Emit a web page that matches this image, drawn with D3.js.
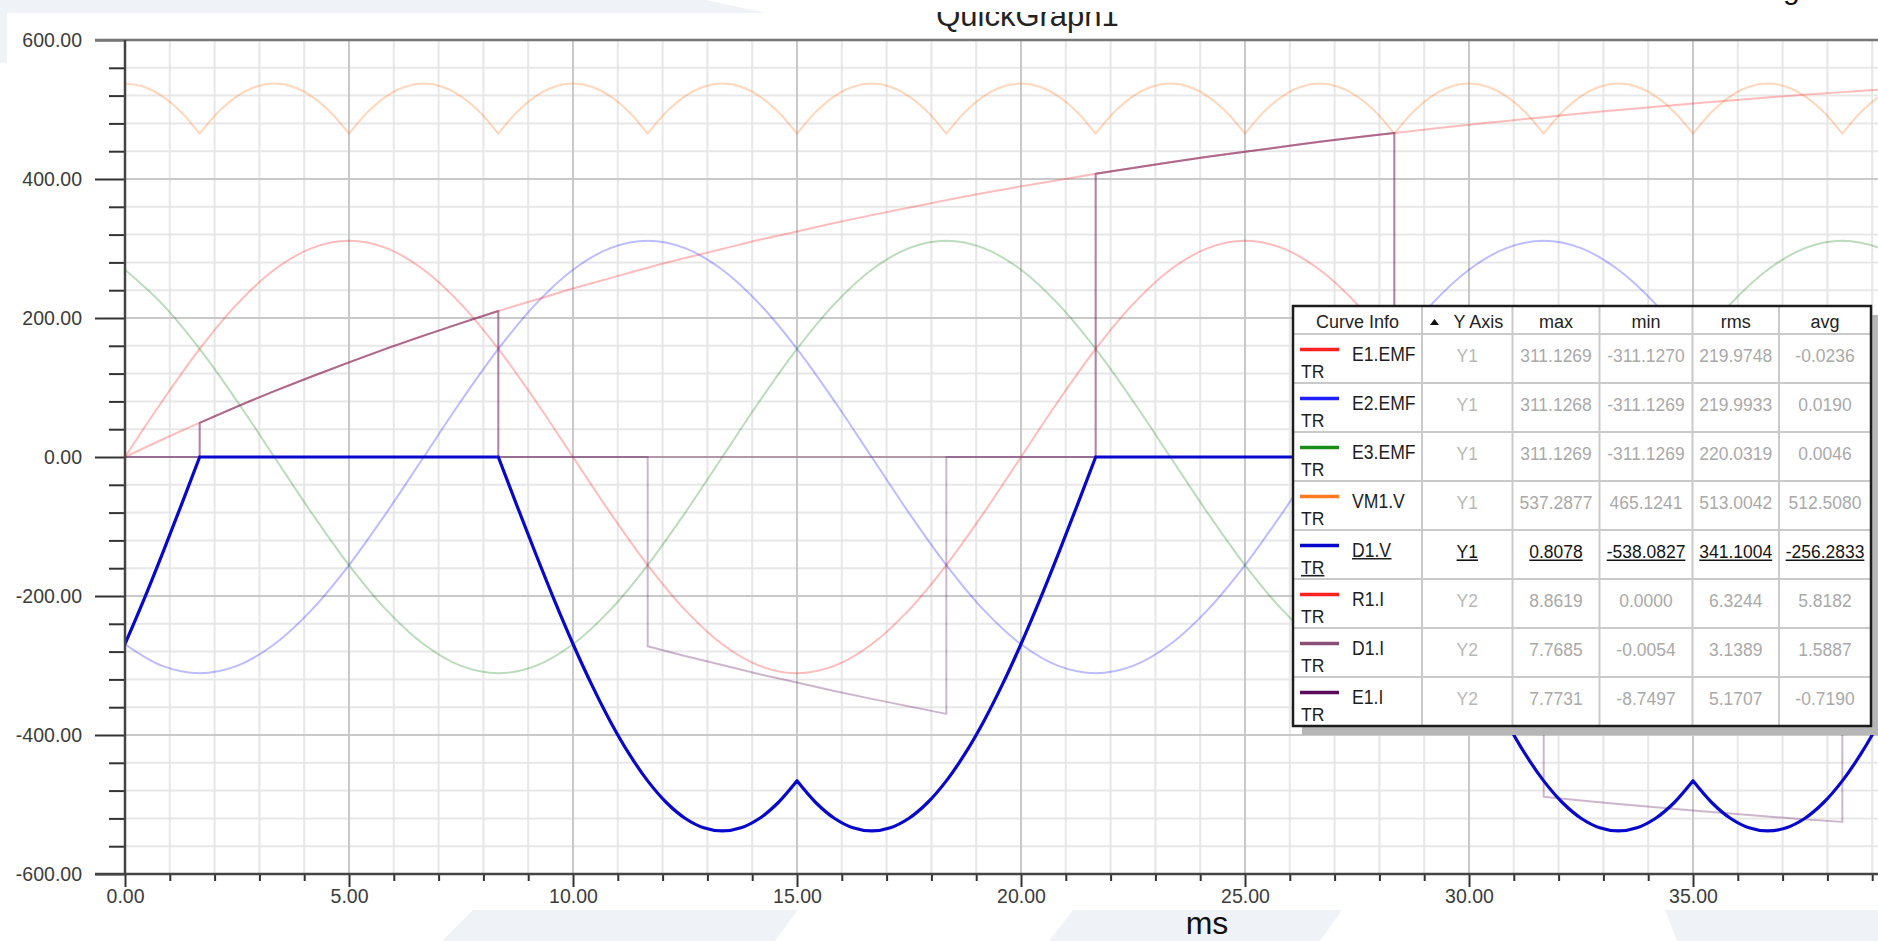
<!DOCTYPE html>
<html>
<head>
<meta charset="utf-8">
<script src="https://cdn.jsdelivr.net/npm/d3@7"></script>
<style>
  html, body { margin: 0; padding: 0; background: #ffffff; overflow: hidden; }
  svg { display: block; font-family: "Liberation Sans", Arial, sans-serif; }
</style>
</head>
<body>
<svg id="chart" width="1878" height="941"></svg>
<script>
// ---------- time bases (ms) ----------
const timeFine = [0, 0.417, 0.833, 1.25, 1.667, 2.083, 2.5, 2.917, 3.333, 3.75, 4.167, 4.583,
  5, 5.417, 5.833, 6.25, 6.667, 7.083, 7.5, 7.917, 8.333, 8.75, 9.167, 9.583,
  10, 10.417, 10.833, 11.25, 11.667, 12.083, 12.5, 12.917, 13.333, 13.75, 14.167, 14.583,
  15, 15.417, 15.833, 16.25, 16.667, 17.083, 17.5, 17.917, 18.333, 18.75, 19.167, 19.583,
  20, 20.417, 20.833, 21.25, 21.667, 22.083, 22.5, 22.917, 23.333, 23.75, 24.167, 24.583,
  25, 25.417, 25.833, 26.25, 26.667, 27.083, 27.5, 27.917, 28.333, 28.75, 29.167, 29.583,
  30, 30.417, 30.833, 31.25, 31.667, 32.083, 32.5, 32.917, 33.333, 33.75, 34.167, 34.583,
  35, 35.417, 35.833, 36.25, 36.667, 37.083, 37.5, 37.917, 38.333, 38.75, 39.167, 39.583, 40];

const timeCoarse = [0, 0.833, 1.667, 2.5, 3.333, 4.167, 5, 5.833, 6.667, 7.5, 8.333, 9.167,
  10, 10.833, 11.667, 12.5, 13.333, 14.167, 15, 15.833, 16.667, 17.5, 18.333, 19.167,
  20, 20.833, 21.667, 22.5, 23.333, 24.167, 25, 25.833, 26.667, 27.5, 28.333, 29.167,
  30, 30.833, 31.667, 32.5, 33.333, 34.167, 35, 35.833, 36.667, 37.5, 38.333, 39.167, 40];

// ---------- Y1 series (V) ----------
const e1Emf = [0, 80.53, 155.56, 220.00, 269.44, 300.53, 311.13, 300.53, 269.44, 220.00, 155.56, 80.53,
  0, -80.53, -155.56, -220.00, -269.44, -300.53, -311.13, -300.53, -269.44, -220.00, -155.56, -80.53,
  0, 80.53, 155.56, 220.00, 269.44, 300.53, 311.13, 300.53, 269.44, 220.00, 155.56, 80.53,
  0, -80.53, -155.56, -220.00, -269.44, -300.53, -311.13, -300.53, -269.44, -220.00, -155.56, -80.53, 0];

const e2Emf = [-269.44, -300.53, -311.13, -300.53, -269.44, -220.00, -155.56, -80.53, 0, 80.53, 155.56, 220.00,
  269.44, 300.53, 311.13, 300.53, 269.44, 220.00, 155.56, 80.53, 0, -80.53, -155.56, -220.00,
  -269.44, -300.53, -311.13, -300.53, -269.44, -220.00, -155.56, -80.53, 0, 80.53, 155.56, 220.00,
  269.44, 300.53, 311.13, 300.53, 269.44, 220.00, 155.56, 80.53, 0, -80.53, -155.56, -220.00, -269.44];

const e3Emf = [269.44, 220.00, 155.56, 80.53, 0, -80.53, -155.56, -220.00, -269.44, -300.53, -311.13, -300.53,
  -269.44, -220.00, -155.56, -80.53, 0, 80.53, 155.56, 220.00, 269.44, 300.53, 311.13, 300.53,
  269.44, 220.00, 155.56, 80.53, 0, -80.53, -155.56, -220.00, -269.44, -300.53, -311.13, -300.53,
  -269.44, -220.00, -155.56, -80.53, 0, 80.53, 155.56, 220.00, 269.44, 300.53, 311.13, 300.53, 269.44];

const vm1V = [
  537.29, 532.69, 518.98, 496.39, 465.12, 496.39, 518.98, 532.69,
  537.29, 532.69, 518.98, 496.39, 465.12, 496.39, 518.98, 532.69,
  537.29, 532.69, 518.98, 496.39, 465.12, 496.39, 518.98, 532.69,
  537.29, 532.69, 518.98, 496.39, 465.12, 496.39, 518.98, 532.69,
  537.29, 532.69, 518.98, 496.39, 465.12, 496.39, 518.98, 532.69,
  537.29, 532.69, 518.98, 496.39, 465.12, 496.39, 518.98, 532.69,
  537.29, 532.69, 518.98, 496.39, 465.12, 496.39, 518.98, 532.69,
  537.29, 532.69, 518.98, 496.39, 465.12, 496.39, 518.98, 532.69,
  537.29, 532.69, 518.98, 496.39, 465.12, 496.39, 518.98, 532.69,
  537.29, 532.69, 518.98, 496.39, 465.12, 496.39, 518.98, 532.69,
  537.29, 532.69, 518.98, 496.39, 465.12, 496.39, 518.98, 532.69,
  537.29, 532.69, 518.98, 496.39, 465.12, 496.39, 518.98, 532.69,
  537.29];

const d1V = [
  -269.04, -205.91, -139.27, -70.23,
  0, 0, 0, 0, 0, 0, 0, 0, 0, 0, 0, 0, 0, 0, 0, 0, 0,
  -70.23, -139.27, -205.91, -269.04, -327.56, -380.48, -426.89, -465.99, -497.12, -519.75, -533.48,
  -538.08, -533.48, -519.75, -497.12, -465.99, -497.12, -519.75, -533.48, -538.08, -533.48, -519.75,
  -497.12, -465.99, -426.89, -380.48, -327.56, -269.04, -205.91, -139.27, -70.23,
  0, 0, 0, 0, 0, 0, 0, 0, 0, 0, 0, 0, 0, 0, 0, 0, 0,
  -70.23, -139.27, -205.91, -269.04, -327.56, -380.48, -426.89, -465.99, -497.12, -519.75, -533.48,
  -538.08, -533.48, -519.75, -497.12, -465.99, -497.12, -519.75, -533.48, -538.08, -533.48, -519.75,
  -497.12, -465.99, -426.89, -380.48, -327.56, -269.04];

// ---------- Y2 series (A) ----------
const r1I = [0, 0.42, 0.82, 1.21, 1.58, 1.93, 2.27, 2.60, 2.91, 3.21, 3.50, 3.77,
  4.04, 4.29, 4.54, 4.77, 4.99, 5.21, 5.41, 5.61, 5.80, 5.98, 6.16, 6.33,
  6.49, 6.64, 6.79, 6.93, 7.07, 7.20, 7.32, 7.44, 7.56, 7.67, 7.77, 7.87,
  7.97, 8.06, 8.15, 8.24, 8.32, 8.40, 8.48, 8.55, 8.62, 8.69, 8.75, 8.81, 8.86];

const d1I = [[0, 0], [1.667, 0], [1.667, 0.82], [2.5, 1.21], [3.333, 1.58], [4.167, 1.93], [5, 2.27],
  [5.833, 2.60], [6.667, 2.91], [7.5, 3.21], [8.333, 3.50], [8.333, 0], [21.667, 0], [21.667, 6.79],
  [22.5, 6.93], [23.333, 7.07], [24.167, 7.20], [25, 7.32], [25.833, 7.44], [26.667, 7.56], [27.5, 7.67],
  [28.333, 7.77], [28.333, 0], [40, 0]];

const e1I = [[0, 0], [1.667, 0], [1.667, 0.82], [2.5, 1.21], [3.333, 1.58], [4.167, 1.93], [5, 2.27],
  [5.833, 2.60], [6.667, 2.91], [7.5, 3.21], [8.333, 3.50], [8.333, 0], [11.667, 0], [11.667, -4.54],
  [12.5, -4.77], [13.333, -4.99], [14.167, -5.21], [15, -5.41], [15.833, -5.61], [16.667, -5.80],
  [17.5, -5.98], [18.333, -6.16], [18.333, 0], [21.667, 0], [21.667, 6.79], [22.5, 6.93], [23.333, 7.07],
  [24.167, 7.20], [25, 7.32], [25.833, 7.44], [26.667, 7.56], [27.5, 7.67], [28.333, 7.77], [28.333, 0],
  [31.667, 0], [31.667, -8.15], [32.5, -8.24], [33.333, -8.32], [34.167, -8.40], [35, -8.48],
  [35.833, -8.55], [36.667, -8.62], [37.5, -8.69], [38.333, -8.75], [38.333, 0], [40, 0]];

// ---------- axes ----------
const xTickValues = [0, 5, 10, 15, 20, 25, 30, 35];
const xTickLabels = ["0.00", "5.00", "10.00", "15.00", "20.00", "25.00", "30.00", "35.00"];
const yTickValues = [-600, -400, -200, 0, 200, 400, 600];
const yTickLabels = ["-600.00", "-400.00", "-200.00", "0.00", "200.00", "400.00", "600.00"];

// ---------- curve info table ----------
const curveNames = ["E1.EMF", "E2.EMF", "E3.EMF", "VM1.V", "D1.V", "R1.I", "D1.I", "E1.I"];
const curveColors = ["#ff2020", "#2020ff", "#1a8c1a", "#ff7a20", "#0808cc", "#ff2020", "#8c5078", "#5c0a5c"];
const curveAxis = ["Y1", "Y1", "Y1", "Y1", "Y1", "Y2", "Y2", "Y2"];
const curveMax = ["311.1269", "311.1268", "311.1269", "537.2877", "0.8078", "8.8619", "7.7685", "7.7731"];
const curveMin = ["-311.1270", "-311.1269", "-311.1269", "465.1241", "-538.0827", "0.0000", "-0.0054", "-8.7497"];
const curveRms = ["219.9748", "219.9933", "220.0319", "513.0042", "341.1004", "6.3244", "3.1389", "5.1707"];
const curveAvg = ["-0.0236", "0.0190", "0.0046", "512.5080", "-256.2833", "5.8182", "1.5887", "-0.7190"];
const statHeaders = ["max", "min", "rms", "avg"];
const activeCurve = "D1.V";

// =====================================================================
const svg = d3.select("#chart");
const W = +svg.attr("width"), H = +svg.attr("height");

// page backdrop
const decor = svg.append("g").attr("fill", "#eff3f7");
[
  [[0, 0], [706, 0], [766, 13], [7, 13], [7, 63], [0, 63]],
  [[473, 910], [798, 910], [775, 941], [442, 941]],
  [[1073, 910], [1342, 910], [1320, 941], [1049, 941]],
  [[1665, 910], [1878, 910], [1878, 941], [1677, 941]]
].forEach(p => decor.append("polygon").attr("points", p.join(" ")));

// scales
const x = d3.scaleLinear().domain([0, 40]).range([125, 1917]);
const y1 = d3.scaleLinear().domain([-600, 600]).range([874, 40]);
const y2 = d3.scaleLinear().domain([-10, 10]).range([874, 40]);

const xMinor = d3.range(1, 40).filter(v => v % 5 !== 0);
const yMinor = d3.range(-560, 600, 40).filter(v => v % 200 !== 0);

// grid
const grid = svg.append("g");
grid.selectAll("line.vmin").data(xMinor).join("line").attr("class", "vmin")
  .attr("x1", d => x(d)).attr("x2", d => x(d)).attr("y1", 40).attr("y2", 874)
  .attr("stroke", "#e7e7e7").attr("stroke-width", 2);
grid.selectAll("line.hmin").data(yMinor).join("line").attr("class", "hmin")
  .attr("x1", 125).attr("x2", W).attr("y1", d => y1(d)).attr("y2", d => y1(d))
  .attr("stroke", "#e7e7e7").attr("stroke-width", 2);
grid.selectAll("line.vmaj").data(xTickValues.slice(1)).join("line").attr("class", "vmaj")
  .attr("x1", d => x(d)).attr("x2", d => x(d)).attr("y1", 40).attr("y2", 874)
  .attr("stroke", "#c9c9c9").attr("stroke-width", 2);
grid.selectAll("line.hmaj").data(yTickValues.slice(1, -1)).join("line").attr("class", "hmaj")
  .attr("x1", 125).attr("x2", W).attr("y1", d => y1(d)).attr("y2", d => y1(d))
  .attr("stroke", "#c9c9c9").attr("stroke-width", 2);

// curves
svg.append("clipPath").attr("id", "plotClip").append("rect")
  .attr("x", 125).attr("y", 36).attr("width", W - 125).attr("height", 842);
const plot = svg.append("g").attr("clip-path", "url(#plotClip)");

// split a sampled series at sharp corners (commutation points), so that the
// smooth interpolation stays between them and the corners remain crisp
function smoothPieces(vals) {
  const cuts = [0];
  for (let i = 1; i < vals.length - 1; i++) {
    const dl = vals[i] - vals[i - 1], dr = vals[i + 1] - vals[i];
    const sharpTurn = dl * dr < 0 && Math.min(Math.abs(dl), Math.abs(dr)) > 15;
    const leavesFlat = (dl === 0) !== (dr === 0);
    if (sharpTurn || leavesFlat) cuts.push(i);
  }
  cuts.push(vals.length - 1);
  return d3.pairs(cuts).map(([a, b]) => d3.range(a, b + 1));
}
function sampledPath(times, vals, ys) {
  const gen = d3.line().x(i => x(times[i])).y(i => ys(vals[i])).curve(d3.curveCatmullRom);
  return smoothPieces(vals).map(idx => gen(idx)).join("");
}
const pairPath = (pts, ys) => d3.line().x(d => x(d[0])).y(d => ys(d[1]))(pts);

const FADE = 0.3;
const curves = [
  { d: sampledPath(timeCoarse, e1Emf, y1), color: curveColors[0], op: FADE, w: 2 },
  { d: sampledPath(timeCoarse, e2Emf, y1), color: curveColors[1], op: FADE, w: 2 },
  { d: sampledPath(timeCoarse, e3Emf, y1), color: curveColors[2], op: FADE, w: 2 },
  { d: sampledPath(timeFine, vm1V, y1), color: curveColors[3], op: FADE, w: 2 },
  { d: sampledPath(timeCoarse, r1I, y2), color: curveColors[5], op: FADE, w: 2 },
  { d: pairPath(d1I, y2), color: curveColors[6], op: 0.4, w: 2 },
  { d: pairPath(e1I, y2), color: curveColors[7], op: FADE, w: 2 },
  { d: sampledPath(timeFine, d1V, y1), color: curveColors[4], op: 1, w: 3.2 }
];
curves.forEach(c => {
  plot.append("path").attr("d", c.d).attr("fill", "none")
    .attr("stroke", c.color).attr("stroke-opacity", c.op).attr("stroke-width", c.w)
    .attr("stroke-linejoin", "round").attr("stroke-linecap", "round");
});

// axes
const tickFont = 19.5, tickColor = "#3c3c3c";
const yAxisG = svg.append("g").attr("transform", "translate(125,0)")
  .call(d3.axisLeft(y1).tickValues(yTickValues).tickSize(30).tickPadding(13)
    .tickFormat((d, i) => yTickLabels[i]));
const yMinorG = svg.append("g").attr("transform", "translate(125,0)")
  .call(d3.axisLeft(y1).tickValues(yMinor).tickSize(16).tickFormat(""));
const xAxisG = svg.append("g").attr("transform", "translate(0,874)")
  .call(d3.axisBottom(x).tickValues(xTickValues).tickSize(13).tickPadding(2)
    .tickFormat((d, i) => xTickLabels[i]));
const xMinorG = svg.append("g").attr("transform", "translate(0,874)")
  .call(d3.axisBottom(x).tickValues(xMinor).tickSize(7).tickFormat(""));

[yAxisG, yMinorG, xAxisG, xMinorG].forEach(g => {
  g.select(".domain").remove();
  g.selectAll(".tick line").attr("stroke", "#333").attr("stroke-width", 2);
  g.selectAll(".tick text").attr("font-size", tickFont).attr("fill", tickColor)
    .attr("font-family", '"Liberation Sans", Arial, sans-serif');
});

// frame lines
svg.append("line").attr("x1", 95).attr("x2", W).attr("y1", 40).attr("y2", 40)
  .attr("stroke", "#767676").attr("stroke-width", 2.5);
svg.append("line").attr("x1", 125).attr("x2", 125).attr("y1", 40).attr("y2", 875)
  .attr("stroke", "#444").attr("stroke-width", 2.5);
svg.append("line").attr("x1", 95).attr("x2", W).attr("y1", 874).attr("y2", 874)
  .attr("stroke", "#444").attr("stroke-width", 2.5);

// title
svg.append("clipPath").attr("id", "titleClip").append("rect")
  .attr("x", 0).attr("y", 12).attr("width", W).attr("height", 28);
svg.append("text").attr("clip-path", "url(#titleClip)")
  .attr("x", 1027.5).attr("y", 26).attr("text-anchor", "middle")
  .attr("font-size", 31).attr("fill", "#222").text("QuickGraph1");
svg.append("text").attr("x", 1783).attr("y", -1).attr("font-size", 30).attr("fill", "#111").text("g");

// x unit
svg.append("text").attr("x", 1207).attr("y", 934).attr("text-anchor", "middle")
  .attr("font-size", 32).attr("fill", "#111").text("ms");

// curve info table
const colX = [1293, 1422, 1512.5, 1599.5, 1692.5, 1779, 1871];
const tTop = 306, headH = 28, rowH = 49;
const tBottom = tTop + headH + rowH * curveNames.length;
const tbl = svg.append("g");

tbl.append("rect").attr("x", colX[0] + 9).attr("y", tTop + 9)
  .attr("width", colX[6] - colX[0]).attr("height", tBottom - tTop).attr("fill", "#b6b6b6");
tbl.append("rect").attr("x", colX[0]).attr("y", tTop)
  .attr("width", colX[6] - colX[0]).attr("height", tBottom - tTop).attr("fill", "#fff");

const rowEdges = d3.range(curveNames.length).map(i => tTop + headH + rowH * i);
tbl.selectAll("line.rsep").data(rowEdges).join("line").attr("class", "rsep")
  .attr("x1", colX[0]).attr("x2", colX[6]).attr("y1", d => d).attr("y2", d => d)
  .attr("stroke", "#cacaca").attr("stroke-width", 2);
tbl.selectAll("line.csep").data(colX.slice(1, -1)).join("line").attr("class", "csep")
  .attr("x1", d => d).attr("x2", d => d).attr("y1", tTop).attr("y2", tBottom)
  .attr("stroke", "#cacaca").attr("stroke-width", 2);
tbl.append("rect").attr("x", colX[0]).attr("y", tTop)
  .attr("width", colX[6] - colX[0]).attr("height", tBottom - tTop)
  .attr("fill", "none").attr("stroke", "#1c1c1c").attr("stroke-width", 2.5);

const colMid = i => (colX[i] + colX[i + 1]) / 2;

// header
tbl.append("text").attr("x", colMid(0)).attr("y", tTop + 22).attr("text-anchor", "middle")
  .attr("font-size", 18).attr("fill", "#222").text("Curve Info");
tbl.append("path").attr("d", "M1430,325 L1439,325 L1434.5,319 Z").attr("fill", "#111");
tbl.append("text").attr("x", 1453.5).attr("y", tTop + 22)
  .attr("font-size", 18).attr("fill", "#222").text("Y Axis");
statHeaders.forEach((h, i) => {
  tbl.append("text").attr("x", colMid(i + 2)).attr("y", tTop + 22).attr("text-anchor", "middle")
    .attr("font-size", 18).attr("fill", "#222").text(h);
});

// squeezed cell text, optionally underlined
function cellText(px, py, str, opts) {
  const g = tbl.append("g").attr("transform", `translate(${px},${py}) scale(${opts.sx},1)`);
  const t = g.append("text").attr("x", 0).attr("y", 0)
    .attr("text-anchor", opts.anchor || "start")
    .attr("font-size", opts.size).attr("fill", opts.color).text(str);
  if (opts.underline) {
    const b = t.node().getBBox();
    g.append("line").attr("x1", b.x).attr("x2", b.x + b.width).attr("y1", 2.2).attr("y2", 2.2)
      .attr("stroke", opts.color).attr("stroke-width", 1.6);
  }
}

curveNames.forEach((name, i) => {
  const top = tTop + headH + rowH * i;
  const active = name === activeCurve;
  tbl.append("line").attr("x1", 1300).attr("x2", 1339).attr("y1", top + 15.5).attr("y2", top + 15.5)
    .attr("stroke", curveColors[i]).attr("stroke-width", 3.5);
  cellText(1352, top + 26.5, name, { sx: 0.88, size: 20, color: "#1e1e1e", underline: active });
  cellText(1301, top + 43.5, "TR", { sx: 0.95, size: 18.5, color: "#1e1e1e", underline: active });
  const valColor = active ? "#141414" : "#a9a9a9";
  cellText(colMid(1), top + 28, curveAxis[i],
    { sx: 0.92, size: 19, color: active ? "#141414" : "#b8b8b8", anchor: "middle", underline: active });
  [curveMax[i], curveMin[i], curveRms[i], curveAvg[i]].forEach((v, j) => {
    cellText(colMid(j + 2), top + 28, v,
      { sx: 0.92, size: 19, color: valColor, anchor: "middle", underline: active });
  });
});
</script>
</body>
</html>
